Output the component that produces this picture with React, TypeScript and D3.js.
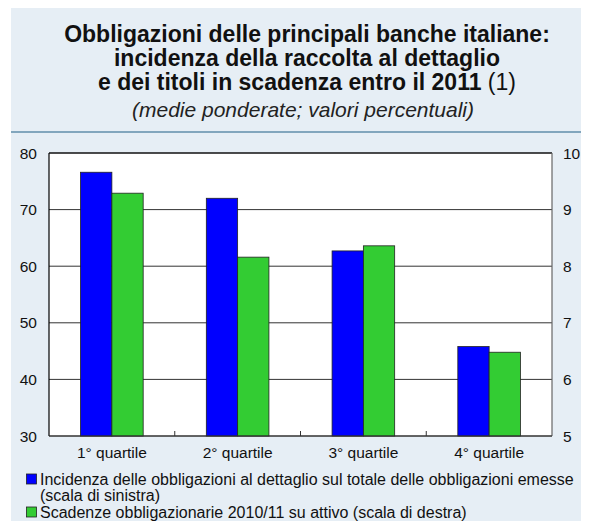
import React from "react";
import * as d3 from "d3";

const categories = ["1° quartile", "2° quartile", "3° quartile", "4° quartile"];
const retailShare = [76.6, 72.0, 62.7, 45.8]; // left axis
const maturities = [9.29, 8.16, 8.36, 6.48]; // right axis
const leftTicks = [30, 40, 50, 60, 70, 80];
const rightTicks = [5, 6, 7, 8, 9, 10];
const titleLines = [
  "Obbligazioni delle principali banche italiane:",
  "incidenza della raccolta al dettaglio",
];
const titleLine3 = "e dei titoli in scadenza entro il 2011";
const subtitle = "(medie ponderate; valori percentuali)";
const legendItems = [
  { color: "#0000FF", lines: ["Incidenza delle obbligazioni al dettaglio sul totale delle obbligazioni emesse", "(scala di sinistra)"] },
  { color: "#33CC33", lines: ["Scadenze obbligazionarie 2010/11 su attivo (scala di destra)"] },
];

const W = 589;
const H = 529;
const FONT = "'Liberation Sans', Arial, Helvetica, sans-serif";

export default function App() {
  const left = 49, right = 552, top = 153, bottom = 436;
  const x = d3.scaleBand<string>().domain(categories).range([left, right]);
  const yL = d3.scaleLinear().domain([30, 80]).range([bottom, top]);
  const yR = d3.scaleLinear().domain([5, 10]).range([bottom, top]);
  const barW = 31.3;
  const bg = "#E6EEF5";
  const lineCol = "#1F5E86";
  const legendY = [484.5, 517.5];

  return (
    <div style={{ margin: -8 }}>
      <svg width={W} height={H} style={{ display: "block", fontFamily: FONT }}>
        <rect x={0} y={0} width={W} height={H} fill="#fff" />
        <rect x={11} y={6} width={W - 11} height={H - 6} fill={bg} />
        <text x={487} y={-1} fontSize={16} fontWeight="bold" fill={lineCol}>Figura</text>
        <line x1={11} x2={W} y1={5.5} y2={5.5} stroke={lineCol} strokeWidth={2} />
        <line x1={11} x2={W} y1={132} y2={132} stroke={lineCol} strokeWidth={1.2} />
        {titleLines.map((t, i) => (
          <text key={i} x={307} y={42 + i * 24} textAnchor="middle" fontSize={23} fontWeight="bold" fill="#111">{t}</text>
        ))}
        <text x={307} y={90} textAnchor="middle" fontSize={23} fill="#111">
          <tspan fontWeight="bold">{titleLine3}</tspan>
          <tspan> (1)</tspan>
        </text>
        <text x={303} y={117} textAnchor="middle" fontSize={21} fontStyle="italic" fill="#222">{subtitle}</text>

        <rect x={left} y={top} width={right - left} height={bottom - top} fill="#fff" />
        {leftTicks.map((t) => (
          <line key={"g" + t} x1={left} x2={right} y1={yL(t)} y2={yL(t)} stroke="#333" strokeWidth={1} />
        ))}
        {categories.map((c, i) => {
          const cx = (x(c) as number) + x.bandwidth() / 2;
          return (
            <g key={c}>
              <rect x={cx - barW} y={yL(retailShare[i])} width={barW} height={bottom - yL(retailShare[i])} fill="#0000FF" stroke="#222" strokeWidth={0.8} />
              <rect x={cx} y={yR(maturities[i])} width={barW} height={bottom - yR(maturities[i])} fill="#33CC33" stroke="#222" strokeWidth={0.8} />
              <text x={cx} y={458} textAnchor="middle" fontSize={15.5} fill="#111">{c}</text>
            </g>
          );
        })}
        {categories.slice(1).map((c) => (
          <line key={"t" + c} x1={x(c) as number} x2={x(c) as number} y1={bottom} y2={bottom - 5} stroke="#333" strokeWidth={1} />
        ))}
        <line x1={left} x2={right} y1={top} y2={top} stroke="#000" strokeWidth={1.2} />
        <line x1={left} x2={left} y1={top} y2={bottom} stroke="#000" strokeWidth={1.2} />
        <line x1={right} x2={right} y1={top} y2={bottom} stroke="#666" strokeWidth={1.2} />
        <line x1={left} x2={right} y1={bottom} y2={bottom} stroke="#333" strokeWidth={1.2} />
        {leftTicks.map((t) => (
          <text key={"l" + t} x={37} y={yL(t) + 5.5} textAnchor="end" fontSize={15.5} fill="#111">{t}</text>
        ))}
        {rightTicks.map((t) => (
          <text key={"r" + t} x={563} y={yR(t) + 5.5} textAnchor="start" fontSize={15.5} fill="#111">{t}</text>
        ))}

        {legendItems.map((it, i) => (
          <g key={i}>
            <rect x={26.5} y={legendY[i] - 10.5} width={10} height={10} fill={it.color} stroke="#222" strokeWidth={0.8} />
            {it.lines.map((l, j) => (
              <text key={j} x={40} y={legendY[i] + j * 16} fontSize={16} fill="#111">{l}</text>
            ))}
          </g>
        ))}
      </svg>
    </div>
  );
}
